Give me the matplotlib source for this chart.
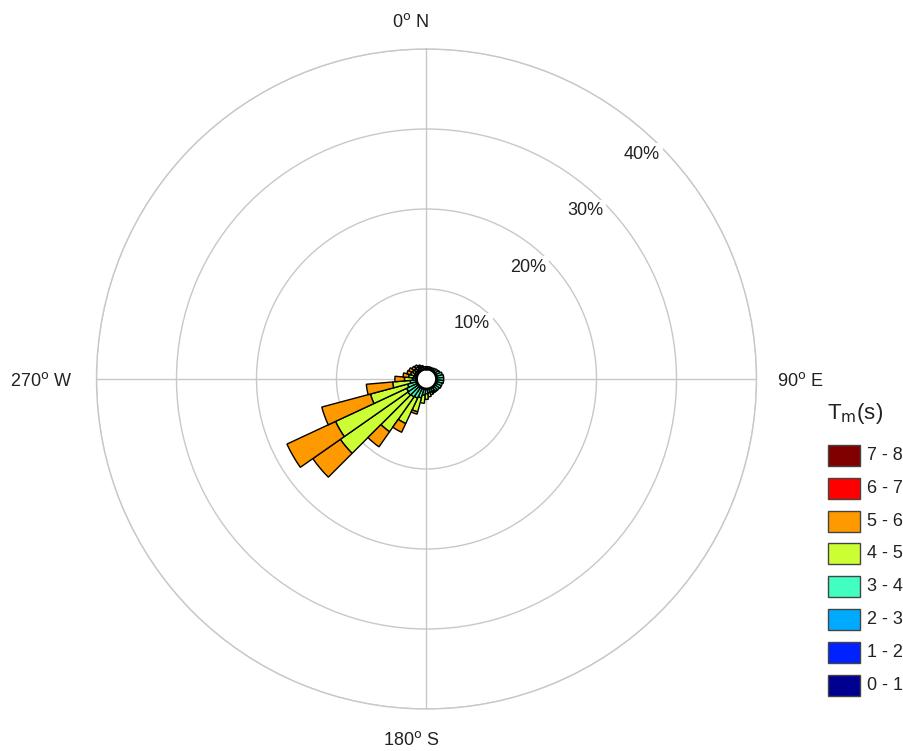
import numpy as np
import matplotlib.pyplot as plt
from matplotlib.patches import Rectangle

plt.rcParams['font.family'] = ['Liberation Sans', 'DejaVu Sans']

# direction bins (degrees from north) and frequency (%) per period class
directions = np.arange(0, 360, 10)
period_classes = ['0 - 1', '1 - 2', '2 - 3', '3 - 4', '4 - 5', '5 - 6', '6 - 7', '7 - 8']
class_colors = ['#000090', '#0022ff', '#00aaff', '#40ffc0', '#ccff33', '#ff9900', '#ff0000', '#800000']

freq_0_1 = [0.0] * 36
freq_1_2 = [0.0] * 36
freq_2_3 = [0.0] * 36
freq_3_4 = [0.3, 0.3, 0.3, 0.3, 0.4, 0.5, 0.6, 0.8, 0.9, 0.9, 0.9, 0.8,
            0.8, 0.7, 0.6, 0.5, 0.5, 0.5, 0.6, 0.8, 1.2, 1.4, 1.5, 1.6,
            1.5, 1.2, 0.8, 0.5, 0.4, 0.3, 0.3, 0.3, 0.3, 0.3, 0.3, 0.3]
freq_4_5 = [0.0, 0.0, 0.0, 0.0, 0.0, 0.0, 0.0, 0.0, 0.0, 0.0, 0.0, 0.0,
            0.0, 0.0, 0.1, 0.2, 0.3, 0.5, 0.7, 1.0, 1.8, 3.5, 5.3, 10.3,
            9.8, 4.8, 2.2, 1.0, 0.6, 0.5, 0.4, 0.3, 0.3, 0.2, 0.1, 0.0]
freq_5_6 = [0.0, 0.0, 0.0, 0.0, 0.0, 0.0, 0.0, 0.0, 0.0, 0.0, 0.0, 0.0,
            0.0, 0.0, 0.0, 0.0, 0.0, 0.0, 0.0, 0.0, 0.3, 1.2, 2.3, 4.2,
            6.7, 6.3, 3.3, 1.2, 0.7, 0.5, 0.5, 0.4, 0.3, 0.2, 0.1, 0.0]
freq_6_7 = [0.0] * 36
freq_7_8 = [0.0] * 36

ring_levels = [10, 20, 30, 40]
ring_labels = ['10%', '20%', '30%', '40%']

W, H = 904, 751
fig = plt.figure(figsize=(W / 100, H / 100), dpi=100)

cx, cy, R = 426.5, 379, 330
ax = fig.add_axes([(cx - R) / W, (H - cy - R) / H, 2 * R / W, 2 * R / H],
                  projection='polar')
ax.set_theta_zero_location('N')
ax.set_theta_direction(-1)
ax.set_ylim(0, 40)
ax.set_rorigin(-1.25)

theta = np.deg2rad(directions)
width = np.deg2rad(10)
bottom = np.zeros(len(directions))
all_freqs = [freq_0_1, freq_1_2, freq_2_3, freq_3_4, freq_4_5, freq_5_6, freq_6_7, freq_7_8]
for vals, col in zip(all_freqs, class_colors):
    vals = np.array(vals)
    mask = vals > 0
    if mask.any():
        ax.bar(theta[mask], vals[mask], width=width, bottom=bottom[mask],
               color=col, edgecolor='black', linewidth=1.0, zorder=3)
    bottom += vals

# hole outline
tt = np.linspace(0, 2 * np.pi, 300)
ax.plot(tt, np.zeros_like(tt), color='black', lw=2, zorder=4, clip_on=False)

ax.set_xticks(np.deg2rad([0, 90, 180, 270]))
ax.set_xticklabels([])
ax.set_yticks(ring_levels)
ax.set_yticklabels([])
ax.grid(True, color='#c8c8c8', lw=1.0)
ax.spines['polar'].set_color('#c8c8c8')
ax.spines['polar'].set_linewidth(1.0)

for lev, lab in zip(ring_levels, ring_labels):
    ax.text(np.deg2rad(45), lev, lab, ha='right', va='top', fontsize=13,
            color='#222222', zorder=5,
            bbox=dict(facecolor='white', edgecolor='none', pad=2))

# compass labels
compass = [(411, 22, r'0$^{\rm o}$ N'), (800, 381, r'90$^{\rm o}$ E'),
           (411, 740, r'180$^{\rm o}$ S'), (41, 381, r'270$^{\rm o}$ W')]
for px, py, lab in compass:
    fig.text(px / W, 1 - py / H, lab, ha='center', va='center', fontsize=13,
             color='#222222')

# legend
fig.text(855 / W, 1 - 414 / H, r'T$_{\rm m}$(s)', ha='center', va='center',
         fontsize=16, color='#222222')
for i, (lab, col) in enumerate(zip(period_classes, class_colors)):
    top = 675 - i * 32.9
    fig.patches.append(Rectangle((828 / W, 1 - (top + 21) / H), 32 / W, 21 / H,
                                 transform=fig.transFigure, facecolor=col,
                                 edgecolor='#444444', lw=1))
    fig.text(867 / W, 1 - (top + 10.5) / H, lab, ha='left', va='center',
             fontsize=13, color='#222222')

fig.savefig('out.png', dpi=100, facecolor='white')
